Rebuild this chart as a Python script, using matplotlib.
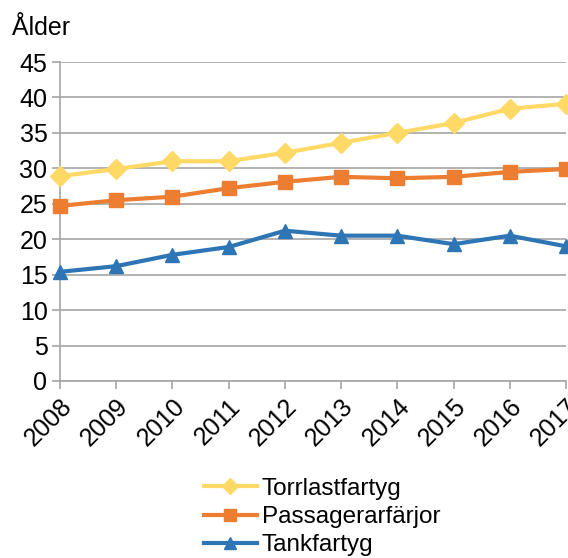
import numpy as np
import matplotlib.pyplot as plt

plt.rcParams['font.family'] = ['Liberation Sans', 'DejaVu Sans']

years = [2008, 2009, 2010, 2011, 2012, 2013, 2014, 2015, 2016, 2017]
torrlast = [28.9, 29.9, 31.0, 31.0, 32.2, 33.6, 35.0, 36.4, 38.4, 39.1]
passagerar = [24.7, 25.5, 26.0, 27.2, 28.1, 28.8, 28.6, 28.8, 29.5, 29.9]
tank = [15.4, 16.2, 17.8, 18.9, 21.2, 20.5, 20.5, 19.3, 20.5, 19.0]

fig = plt.figure(figsize=(5.68, 5.58), dpi=100)
ax = fig.add_axes([60/568, 1 - 381/558, 506/568, (381 - 62)/558])

ax.plot(years, torrlast, '-D', color='#FFD966', lw=3, ms=10, clip_on=False,
        label='Torrlastfartyg', zorder=3)
ax.plot(years, passagerar, '-s', color='#ED7D31', lw=3, ms=10, clip_on=False,
        label='Passagerarfärjor', zorder=3)
ax.plot(years, tank, '-^', color='#2E75B6', lw=3, ms=10, clip_on=False,
        label='Tankfartyg', zorder=3)

ax.set_xlim(2008, 2017)
ax.set_ylim(0, 45)
ax.set_yticks(np.arange(0, 46, 5))
ax.set_xticks(years)
ax.set_xticklabels([str(y) for y in years], rotation=45, ha='right',
                   rotation_mode='anchor')
ax.grid(axis='y', color='#A6A6A6', lw=1.2)
ax.set_axisbelow(True)
for s in ['top', 'right']:
    ax.spines[s].set_visible(False)
for s in ['left', 'bottom']:
    ax.spines[s].set_color('#A6A6A6')
    ax.spines[s].set_linewidth(1.2)
ax.tick_params(axis='both', colors='#A6A6A6', labelcolor='black',
               labelsize=18, length=6, width=1.2)
ax.tick_params(axis='y', pad=3)

fig.text(12/568, 1 - 28/558, 'Ålder', fontsize=18, va='center', ha='left')

fig.legend(loc='center', bbox_to_anchor=(322/568, 1 - 517/558), frameon=False,
           fontsize=17.5, handlelength=2.2, labelspacing=0.25, handletextpad=0.2,
           borderpad=0, markerscale=0.8)

fig.savefig('out.png', dpi=100)
